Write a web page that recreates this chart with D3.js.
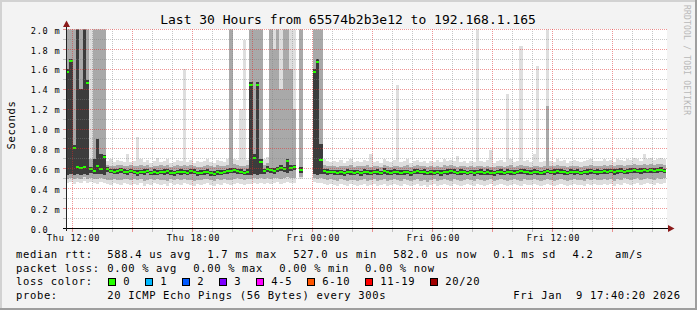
<!DOCTYPE html>
<html>
<head>
<meta charset="utf-8">
<script src="https://cdn.jsdelivr.net/npm/d3@7"></script>
<style>
  html, body { margin: 0; padding: 0; background: #f3f3f3; }
  svg { display: block; }
  text { font-family: "DejaVu Sans Mono", monospace; white-space: pre; }
</style>
</head>
<body>
<svg id="chart"></svg>
<script>
// one step = 10 minutes, values in hundredths of a millisecond (250 = off the top)
const medianRtt = [
  157,168,81,62,61,62,146,60,58,63,60,72,60,58,57,58,59,57,57,58,
  57,56,57,57,58,56,57,56,57,57,58,56,56,57,57,57,56,58,57,56,
  56,57,57,56,55,57,56,57,58,58,59,58,57,56,57,144,71,144,67,58,
  60,59,58,60,61,60,68,61,62,null,59,null,null,null,157,167,69,58,57,57,
  57,56,57,56,57,57,56,57,56,57,57,56,57,57,56,58,57,56,57,57,
  56,57,57,56,57,58,57,57,56,57,56,57,56,57,57,58,57,56,57,57,
  56,57,56,57,57,56,57,56,56,57,57,56,57,57,56,57,58,57,57,56,
  57,57,56,57,58,57,57,58,57,57,56,57,57,57,56,57,57,58,57,57,
  57,58,57,58,57,58,58,57,58,58,59,58,58,59,58,59,58,59,59,58
];
const pingMin = [
  46,47,45,47,46,48,46,47,46,45,47,46,45,44,46,45,44,46,45,44,
  45,44,46,43,45,44,46,45,44,45,43,46,44,45,44,46,45,44,43,45,
  44,45,46,44,43,45,44,46,45,44,45,46,45,44,45,45,46,45,46,45,
  46,45,46,47,45,46,47,46,46,null,50,null,null,null,47,46,46,45,44,45,
  44,43,45,44,43,45,44,43,44,45,43,44,45,43,44,45,43,44,45,44,
  43,45,44,43,44,45,43,44,42,44,45,43,44,45,44,43,45,44,43,44,
  45,44,43,45,44,43,44,45,43,44,45,44,43,44,45,44,43,45,44,44,
  45,44,43,44,45,44,43,44,45,44,43,44,45,44,44,43,45,44,45,44,
  44,45,44,45,43,45,44,46,45,44,45,46,44,45,46,45,44,46,45,46
];
const midLo = [
  50,51,50,51,50,52,50,51,50,50,51,50,49,49,50,49,49,50,50,49,
  50,49,50,48,49,50,49,50,49,49,48,50,49,50,49,50,49,49,48,49,
  49,50,50,49,48,50,49,50,49,49,50,51,50,49,50,50,51,50,51,50,
  51,50,51,51,50,51,52,51,51,null,52,null,null,null,51,50,51,50,49,50,
  49,48,50,49,48,49,49,48,49,50,48,49,50,48,49,50,48,49,50,49,
  48,50,49,48,49,50,48,49,47,49,50,48,49,50,49,48,50,49,48,49,
  50,49,48,50,49,48,49,50,48,49,50,49,48,49,50,49,48,50,49,49,
  50,49,48,49,50,49,48,49,50,49,48,49,50,49,49,48,50,49,50,49,
  49,50,49,50,48,50,49,51,50,49,50,51,49,50,51,50,49,51,50,51
];
const coreLo = [
  54,55,54,55,54,55,54,56,55,55,55,54,57,56,55,55,56,55,54,56,
  55,53,55,54,56,54,54,54,55,54,55,54,53,55,54,55,54,55,55,53,
  54,54,55,53,53,54,54,55,55,56,56,55,55,54,54,54,55,54,55,55,
  57,56,55,57,58,57,56,58,59,null,56,null,null,null,55,54,55,55,54,55,
  54,54,54,53,55,54,54,55,53,55,54,54,55,54,54,55,54,54,55,54,
  54,54,55,53,55,55,55,54,54,54,54,55,53,55,54,55,55,54,54,55,
  54,55,53,55,54,54,54,54,53,55,54,54,55,54,54,55,55,55,54,54,
  55,54,54,54,56,55,54,55,55,54,54,55,54,55,54,55,54,55,55,54,
  55,55,55,56,54,55,56,55,55,56,56,56,55,56,56,56,56,56,57,56
];
const coreHi = [
  160,170,84,250,140,250,149,62,70,90,75,74,62,60,60,60,61,60,59,60,
  59,59,59,60,60,58,60,59,59,60,60,59,58,59,60,59,59,60,60,58,
  59,59,60,58,58,59,59,59,60,61,61,60,60,58,60,147,75,147,70,60,
  63,61,61,62,64,62,70,64,64,null,62,null,null,null,160,170,85,60,60,59,
  59,59,59,58,60,59,59,59,58,60,59,59,59,60,58,61,59,59,60,59,
  59,59,59,58,60,60,59,60,58,59,59,59,59,59,60,60,60,58,60,59,
  58,59,59,59,60,58,60,59,58,59,60,58,60,59,59,59,60,60,59,59,
  60,59,58,59,60,59,60,60,60,59,58,60,59,60,58,59,60,60,59,60,
  59,60,60,60,60,60,61,59,60,61,61,60,61,61,60,61,61,61,62,60
];
const midHi = [
  250,250,250,250,250,250,250,70,250,250,250,250,64,63,63,64,64,63,63,64,
  63,63,64,63,64,62,63,63,64,63,64,62,63,64,63,64,63,64,63,62,
  62,63,64,63,62,64,63,63,64,250,65,64,63,63,64,250,250,250,250,64,
  66,250,180,250,140,250,250,160,120,null,250,null,null,null,250,250,250,64,63,63,
  63,62,63,63,63,64,62,63,63,63,64,62,63,63,62,64,63,62,63,63,
  62,63,64,62,63,64,63,63,62,63,62,63,62,64,63,64,63,62,63,63,
  62,63,62,63,63,62,63,62,62,63,63,62,63,64,62,63,64,63,63,62,
  63,63,62,63,123,63,63,64,63,63,62,63,63,63,62,63,63,64,63,63,
  63,64,63,64,63,64,64,63,64,64,65,64,64,65,64,65,64,65,65,64
];
const pingMax = [
  250,250,250,250,250,250,250,250,250,250,250,250,68,70,67,69,68,67,75,67,
  68,92,70,67,69,66,68,71,67,68,70,66,67,69,68,160,67,69,66,68,
  67,68,70,67,66,69,68,67,70,250,70,69,120,189,69,250,250,250,250,70,
  72,250,250,250,250,250,250,250,250,null,250,null,null,null,250,250,250,70,68,67,
  68,67,69,66,68,70,67,68,67,69,68,75,67,68,66,70,68,67,69,144,
  67,68,70,66,68,69,67,68,66,68,67,69,67,70,68,69,68,73,67,68,
  66,68,67,250,68,67,69,79,66,68,69,67,135,70,67,68,183,68,69,67,
  75,163,67,68,250,68,67,70,68,69,66,68,69,68,67,68,69,70,68,68,
  68,70,68,69,67,70,69,68,70,69,71,70,68,75,70,71,69,70,71,70
];

const yTicks = [0, 0.2, 0.4, 0.6, 0.8, 1.0, 1.2, 1.4, 1.6, 1.8, 2.0];
const rttStats = ['588.4 us avg', '1.7 ms max', '527.0 us min', '582.0 us now', '0.1 ms sd', '4.2', 'am/s'];
const lossStats = ['0.00 % avg', '0.00 % max', '0.00 % min', '0.00 % now'];
const lossLabels = ['0', '1', '2', '3', '4-5', '6-10', '11-19', '20/20'];
const lossColors = ['#26ff00', '#00b8ff', '#0059ff', '#7e00ff', '#ff00ff', '#ff5500', '#ff0000', '#a10000'];

const W = 697, H = 310;
const svg = d3.select('#chart').attr('width', W).attr('height', H);

const t0 = new Date(Date.UTC(2026, 0, 8, 11, 40, 20));
const t1 = new Date(Date.UTC(2026, 0, 9, 17, 40, 20));
const stepMs = 10 * 60 * 1000;

const x = d3.scaleUtc().domain([t0, t1]).range([66, 666]);
const y = d3.scaleLinear().domain([0, 2.0]).range([228.5, 29.5]);
const sx = t => Math.round(x(t) - 0.5) + 0.5;
const sy = v => Math.round(y(v) - 0.5) + 0.5;

// background + frame
svg.append('rect').attr('width', W).attr('height', H).attr('fill', '#f3f3f3');
svg.append('rect').attr('width', W).attr('height', 2).attr('fill', '#d2d2d2');
svg.append('rect').attr('width', 2).attr('height', H).attr('fill', '#d2d2d2');
svg.append('rect').attr('y', H - 2).attr('width', W).attr('height', 2).attr('fill', '#9e9e9e');
svg.append('rect').attr('x', W - 2).attr('width', 2).attr('height', H).attr('fill', '#9e9e9e');

// canvas
svg.append('rect')
  .attr('x', 66).attr('y', 29)
  .attr('width', 601).attr('height', 200)
  .attr('fill', '#fff');

svg.append('clipPath').attr('id', 'plotclip')
  .append('rect').attr('x', 66).attr('y', 29.5).attr('width', 601).attr('height', 199);

let plot = svg.append('g').attr('clip-path', 'url(#plotclip)').attr('shape-rendering', 'crispEdges');

let steps = medianRtt.map((m, i) => ({
  t: new Date(+t0 + i * stepMs),
  t2: new Date(+t0 + (i + 1) * stepMs),
  med: m, lo: pingMin[i], hi: pingMax[i],
  mLo: midLo[i], mHi: midHi[i], cLo: coreLo[i], cHi: coreHi[i]
})).filter(d => d.med !== null);

let layers = [
  { lo: 'lo', hi: 'hi', color: '#dedede' },
  { lo: 'mLo', hi: 'mHi', color: '#a9a9a9' },
  { lo: 'cLo', hi: 'cHi', color: '#3c3c3c' }
];

layers.forEach(l => {
  plot.append('g').selectAll('rect')
    .data(steps)
    .enter()
    .append('rect')
    .attr('x', d => x(d.t))
    .attr('width', d => x(d.t2) - x(d.t))
    .attr('y', d => y(d[l.hi] / 100))
    .attr('height', d => y(d[l.lo] / 100) - y(d[l.hi] / 100))
    .attr('fill', l.color);
});

// median, loss 0 colour
plot.append('g').selectAll('rect')
  .data(steps)
  .enter()
  .append('rect')
  .attr('x', d => x(d.t))
  .attr('width', d => x(d.t2) - x(d.t))
  .attr('y', d => y(d.med / 100) - 1)
  .attr('height', 2)
  .attr('fill', lossColors[0]);

// grid (drawn above the smoke, like rrdtool)
const minorCol = 'rgba(128,128,128,0.43)';
const majorCol = 'rgba(222,40,40,0.49)';
let grid = svg.append('g');

let minorY = d3.range(1, 20, 2).map(k => k / 10);
let majorY = yTicks.filter(v => v > 0);
let hours = d3.utcHour.range(t0, t1);

function hLine(v, col) {
  grid.append('line').attr('x1', 66).attr('x2', 668).attr('y1', sy(v)).attr('y2', sy(v))
    .attr('stroke', col).attr('stroke-dasharray', '1,1');
  grid.append('line').attr('x1', 63).attr('x2', 66).attr('y1', sy(v)).attr('y2', sy(v))
    .attr('stroke', col);
}
function vLine(t, col) {
  grid.append('line').attr('x1', sx(t)).attr('x2', sx(t)).attr('y1', 29).attr('y2', 228)
    .attr('stroke', col).attr('stroke-dasharray', '1,1');
  grid.append('line').attr('x1', sx(t)).attr('x2', sx(t)).attr('y1', 229).attr('y2', 232)
    .attr('stroke', col);
}
minorY.forEach(v => hLine(v, minorCol));
hours.filter(h => h.getUTCHours() % 3 !== 0).forEach(h => vLine(h, minorCol));
majorY.forEach(v => hLine(v, majorCol));
hours.filter(h => h.getUTCHours() % 3 === 0).forEach(h => vLine(h, majorCol));

// axes lines + arrows
svg.append('line').attr('x1', 63).attr('x2', 670).attr('y1', 228.5).attr('y2', 228.5).attr('stroke', '#000');
svg.append('line').attr('x1', 66.5).attr('x2', 66.5).attr('y1', 231).attr('y2', 25).attr('stroke', '#222');
svg.append('path').attr('d', 'M66.5,20.5 L63,27 L70,27 Z').attr('fill', '#8b1a1a');
svg.append('path').attr('d', 'M674.5,228.5 L668,225 L668,232 Z').attr('fill', '#8b1a1a');

// x labels
let gx = svg.append('g')
  .attr('transform', 'translate(0.5,241)')
  .call(d3.axisBottom(x)
    .ticks(d3.utcHour.every(6))
    .tickFormat(d3.utcFormat('%a %H:%M'))
    .tickSize(0)
    .tickPadding(0));
gx.select('.domain').remove();
gx.attr('font-family', '"DejaVu Sans Mono", monospace').attr('font-size', 8.6);
gx.selectAll('text').attr('dy', null).attr('y', 0).attr('letter-spacing', 0.77).attr('fill', '#000');

// y labels
let gy = svg.append('g')
  .attr('transform', 'translate(66,0)')
  .call(d3.axisLeft(y)
    .tickValues(yTicks)
    .tickFormat(v => v === 0 ? '0.0' : d3.format('.1f')(v) + ' m')
    .tickSize(0));
gy.select('.domain').remove();
gy.attr('font-family', '"DejaVu Sans Mono", monospace').attr('font-size', 8.6);
gy.selectAll('text').attr('dy', null).attr('x', 30.7 - 66).attr('y', 3.6)
  .attr('text-anchor', 'start').attr('letter-spacing', 0.77).attr('fill', '#000');

// title, unit, watermark
svg.append('text').attr('x', 348).attr('y', 24).attr('text-anchor', 'middle')
  .attr('font-size', 13).text('Last 30 Hours from 65574b2b3e12 to 192.168.1.165');

svg.append('text').attr('transform', 'translate(15,125) rotate(-90)')
  .attr('text-anchor', 'middle').attr('font-size', 10.5).attr('letter-spacing', 0.65)
  .text('Seconds');

svg.append('text').attr('transform', 'translate(683.5,5) rotate(90)')
  .attr('font-size', 8).attr('letter-spacing', 0.2).attr('fill', '#b8b8b8')
  .text('RRDTOOL / TOBI OETIKER');

// legend
let legend = svg.append('g').attr('font-size', 10.5).attr('letter-spacing', 0.65);
function legText(px, py, s) {
  legend.append('text').attr('x', px).attr('y', py).text(s);
}
const rowY = [257.8, 271.6, 285.4, 299.2];

legText(16, rowY[0], 'median rtt:');
[107.3, 207.3, 293.3, 393.3, 493.3, 572.5, 615].forEach((px, i) => legText(px, rowY[0], rttStats[i]));

legText(16, rowY[1], 'packet loss:');
[107.3, 193.3, 279.3, 365].forEach((px, i) => legText(px, rowY[1], lossStats[i]));

legText(16, rowY[2], 'loss color:');
let bx = 108.5;
lossLabels.forEach((lab, i) => {
  legend.append('rect')
    .attr('x', bx).attr('y', 278.5).attr('width', 7).attr('height', 7)
    .attr('fill', lossColors[i]).attr('stroke', '#000');
  legText(bx + 14.8, rowY[2], lab);
  bx += 14.7 + lab.length * 7 + 15.3;
});

legText(16, rowY[3], 'probe:');
legText(107.3, rowY[3], '20 ICMP Echo Pings (56 Bytes) every 300s');
legText(513.3, rowY[3], 'Fri Jan  9 17:40:20 2026');
</script>
</body>
</html>
